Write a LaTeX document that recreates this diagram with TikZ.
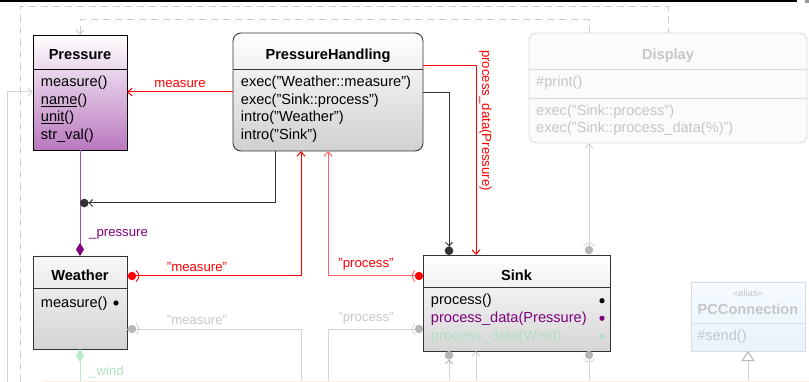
\documentclass[tikz,border=0pt]{standalone}
\usepackage{fontspec}
\setmainfont{Liberation Sans}
\usetikzlibrary{arrows.meta,calc}
\definecolor{pressB}{RGB}{185,120,190}
\definecolor{phB}{RGB}{208,208,208}
\definecolor{wB}{RGB}{212,212,212}
\definecolor{sB}{RGB}{214,214,214}
\definecolor{dispF}{RGB}{251,251,251}
\definecolor{dispD}{RGB}{218,218,218}
\definecolor{dispT}{RGB}{198,198,198}
\definecolor{pccT}{RGB}{246,251,255}
\definecolor{pccB}{RGB}{232,243,253}
\definecolor{pccD}{RGB}{220,220,220}
\definecolor{conG}{RGB}{212,212,212}
\definecolor{ballG}{RGB}{182,182,182}
\definecolor{lblG}{RGB}{200,200,200}
\definecolor{purD}{RGB}{128,0,128}
\definecolor{purL}{RGB}{165,80,175}
\definecolor{grnL}{RGB}{185,236,202}
\definecolor{grnT}{RGB}{178,224,192}
\definecolor{redL}{RGB}{255,100,100}
\definecolor{dashG}{RGB}{204,204,204}
\definecolor{peach}{RGB}{250,236,222}
\definecolor{edge}{RGB}{51,51,51}
\newcommand{\ballsock}[5]{%
  \fill[#1] #3 circle (4.2);
  \draw[#2, line width=0.9pt] #3 ++(#4:6.8) arc (#4:#5:6.8);
}
\tikzset{
  openv/.tip={Straight Barb[length=4.5pt,width=8pt]},
  dotv/.tip={Straight Barb[length=3.5pt,width=7pt] Circle[length=8.5pt]},
}
\begin{document}
\begin{tikzpicture}[x=1pt,y=-1pt,
  boxn/.style={anchor=north west, inner sep=0pt, outer sep=0pt, line width=0.9pt},
  txt/.style={font=\fontsize{14.6}{17.5}\selectfont, inner sep=0pt, anchor=base west},
  ttl/.style={font=\fontsize{14.6}{17.5}\selectfont\bfseries, inner sep=0pt, anchor=base},
  lbl/.style={font=\fontsize{13.2}{15}\selectfont, inner sep=0pt, anchor=base},
  conn/.style={line width=1pt},
  redc/.style={conn, draw=red},
  redlc/.style={conn, draw=redL},
  grayc/.style={conn, draw=conG},
  blackc/.style={conn, draw=edge},
  dashc/.style={conn, draw=dashG, dash pattern=on 7pt off 5pt},
]
\useasboundingbox (0,0) rectangle (809,382);

% top bar
\draw[black, line width=1.6pt] (0,0.8) -- (797,0.8);
\fill[black!40] (805,0) rectangle (809,3);

% ---------- boxes ----------
\node[boxn, draw=black, top color=white, bottom color=pressB, minimum width=94pt, minimum height=115pt] (press) at (33,35) {};
\draw[black, line width=0.9pt] ($(press.north west)+(0,34)$) -- ($(press.north east)+(0,34)$);

\node[boxn, draw=edge, rounded corners=8pt, top color=white, bottom color=phB, minimum width=190pt, minimum height=118pt] (ph) at (233,33) {};
\draw[edge, line width=0.9pt] ($(ph.north west)+(0,36)$) -- ($(ph.north east)+(0,36)$);

\node[boxn, draw=dispD, rounded corners=8pt, fill=dispF, minimum width=278pt, minimum height=110pt] (disp) at (529,33) {};
\draw[dispD, line width=0.9pt] ($(disp.north west)+(0,36)$) -- ($(disp.north east)+(0,36)$);
\draw[dispD, line width=0.9pt] ($(disp.north west)+(0,65)$) -- ($(disp.north east)+(0,65)$);

\node[boxn, draw=edge, top color=white!97!black, bottom color=wB, minimum width=94pt, minimum height=93pt] (weather) at (33,256) {};
\draw[edge, line width=0.9pt] ($(weather.north west)+(0,32)$) -- ($(weather.north east)+(0,32)$);

\node[boxn, draw=edge, top color=white, bottom color=sB, minimum width=187pt, minimum height=96pt] (sink) at (423,255) {};
\draw[edge, line width=0.9pt] ($(sink.north west)+(0,32)$) -- ($(sink.north east)+(0,32)$);

\node[boxn, draw=pccD, top color=pccT, bottom color=pccB, minimum width=114pt, minimum height=69pt] (pcc) at (691,282) {};
\draw[pccD, line width=0.9pt] ($(pcc.north west)+(0,41)$) -- ($(pcc.north east)+(0,41)$);

% ---------- texts ----------
\node[ttl] (pt) at (80,60) {Pressure};
\node[txt] (pm1) at (40.7,87) {measure()};
\node[txt] (pm2) at (40.7,104.5) {\underline{name}()};
\node[txt] (pm3) at (40.7,122) {\underline{unit}()};
\node[txt] (pm4) at (40.7,139.5) {str\_val()};

\node[ttl] (pht) at (328,59.5) {PressureHandling};
\node[txt] (ph1) at (240.7,87) {exec("Weather::measure")};
\node[txt] (ph2) at (240.7,104.5) {exec("Sink::process")};
\node[txt] (ph3) at (240.7,122) {intro("Weather")};
\node[txt] (ph4) at (240.7,139.5) {intro("Sink")};

\node[ttl, text=dispT] (dt) at (668,60) {Display};
\node[txt, text=dispT] (d1) at (536,87) {\#print()};
\node[txt, text=dispT] (d2) at (536,116) {exec("Sink::process")};
\node[txt, text=dispT] (d3) at (536,133) {exec("Sink::process\_data(\%)")};

\node[ttl] (wt) at (80,280.7) {Weather};
\node[txt] (w1) at (40.7,307) {measure()};
\fill[black] (116,303) circle (2.6);

\node[ttl] (st) at (516.5,280) {Sink};
\node[txt] (s1) at (430.7,305) {process()};
\node[txt, text=purD] (s2) at (430.7,322.7) {process\_data(Pressure)};
\node[txt, text=grnT] (s3) at (430.7,340.4) {process\_data(Wind)};
\fill[black] (602,300.7) circle (2.6);
\fill[purD] (602,318.3) circle (2.6);
\fill[grnT] (602,336.7) circle (2.6);

\node[lbl, font=\fontsize{9.5}{11}\selectfont, text=dispT] (pal) at (748,296.7) {«alias»};
\node[ttl, text=dispT] (pct) at (748,314) {PCConnection};
\node[txt, text=dispT] (p1) at (697,340.7) {\#send()};

% ---------- connectors ----------
\coordinate (dout) at (20,382);
\draw[dashc] (dout) |- ($(disp.north west)+(139,-26)$) -- ($(disp.north west)+(139,0)$);
\draw[dashc, -{openv[color=dashG]}] ($(disp.north west)+(60,0)$) -- ++(0,-13) -| (press.north);

\coordinate (gleft) at (7,382);
\draw[grayc, -{openv}] (gleft) |- ($(press.north west)+(0,57)$);

\draw[redc, -{openv}] ($(ph.north west)+(0,59)$) -- ($(press.north east)+(0,57)$);
\node[lbl, text=red] (lmeas) at (180,87.3) {measure};

\draw[purL, line width=1pt, -{Diamond[length=13pt,width=8pt,color=purD,fill=purD]}] (press.south) -- (weather.north);
\node[lbl, text=purD, anchor=base west] (lpress) at (89,237) {\_pressure};

\draw[blackc, -{dotv}] ($(ph.south west)+(42,0)$) |- ($(press.south)+(0,53)$);
\draw[blackc, -{dotv}] ($(ph.north east)+(0,59.7)$) -| ($(sink.north west)+(26,0)$);

\draw[redc, -{openv}] ($(ph.north east)+(0,33)$) -| ($(sink.north west)+(53,0)$);
\node[lbl, text=red, rotate=-90, anchor=base west] (lpd) at (482,50) {process\_data(Pressure)};

\draw[redc, -{openv}] ($(weather.north east)+(0,20)$) -| ($(ph.south west)+(68,0)$);
\ballsock{red}{red}{($(weather.north east)+(5,20)$)}{-55}{55}
\node[lbl, text=red] (lqm) at (197,271.5) {"measure"};

\draw[redlc, -{openv}] ($(sink.north west)+(0,21)$) -| ($(ph.south west)+(95,0)$);
\ballsock{red}{redL}{($(sink.north west)+(-4,21)$)}{125}{235}
\node[lbl, text=red] (lqp) at (366,268) {"process"};

\coordinate (gm) at (301,382);
\draw[grayc] ($(weather.north east)+(0,73)$) -| (gm);
\ballsock{ballG}{conG}{($(weather.north east)+(5,73)$)}{-55}{55}
\node[lbl, text=lblG] (lgm) at (197,324) {"measure"};

\coordinate (gp) at (328,382);
\draw[grayc] ($(sink.north west)+(0,74)$) -| (gp);
\ballsock{ballG}{conG}{($(sink.north west)+(-4,74)$)}{125}{235}
\node[lbl, text=lblG] (lgp) at (366,321.5) {"process"};

\coordinate (g449) at (449,382);
\draw[grayc, -{dotv[color=ballG]}] (g449) -- ($(sink.south west)+(26,0)$);
\coordinate (g476) at (476,382);
\draw[grayc, -{openv}] (g476) -- ($(sink.south west)+(53,0)$);
\coordinate (g589) at (589,382);
\draw[grayc] ($(sink.south west)+(166,0)$) -- (g589);
\ballsock{ballG}{conG}{($(sink.south west)+(166,4)$)}{35}{145}
\draw[grayc, -{openv}] ($(sink.north west)+(166,0)$) -- ($(disp.south west)+(60,0)$);
\ballsock{ballG}{conG}{($(sink.north west)+(166,-5)$)}{-145}{-35}

\coordinate (gw) at (80,382);
\draw[grnL, line width=1pt, {Diamond[length=13pt,width=8pt,color=grnL,fill=grnL]}-] (weather.south) -- (gw);
\node[lbl, text=grnT, anchor=base west] (lwind) at (89,375) {\_wind};

\coordinate (gt) at (748,382);
\draw[grayc, {Triangle[length=10pt,width=13pt,color=ballG,fill=white]}-] (pcc.south) -- (gt);

\draw[peach, line width=1pt] (42,381.5) -- (809,381.5);
\end{tikzpicture}
\end{document}
